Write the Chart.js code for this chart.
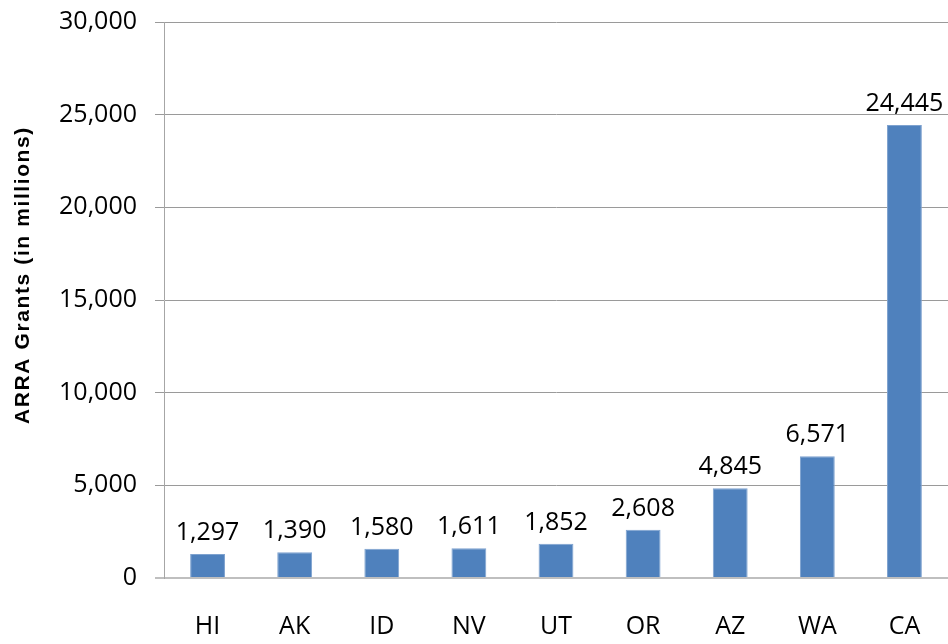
<!DOCTYPE html>
<html><head><meta charset="utf-8">
<script src="https://cdn.jsdelivr.net/npm/chart.js@4"></script>
<style>html,body{margin:0;padding:0;background:#fff}#wrap{width:948px;height:644px}</style>
</head><body><div id="wrap"><canvas id="c" width="948" height="644"></canvas></div>
<script>
const categories = ['HI','AK','ID','NV','UT','OR','AZ','WA','CA'];
const grants = [1297,1390,1580,1611,1852,2608,4845,6571,24445];
const yTitle = 'ARRA Grants (in millions)';
const yMin = 0, yMax = 30000, yStep = 5000;

const fmt = v => v.toLocaleString('en-US');
const FONT = "'Open Sans', sans-serif";

const valueLabels = {
  id: 'valueLabels',
  afterDatasetsDraw(chart) {
    const ctx = chart.ctx;
    const meta = chart.getDatasetMeta(0);
    ctx.save();
    ctx.font = '25px ' + FONT;
    ctx.fillStyle = '#000';
    ctx.textAlign = 'center';
    ctx.textBaseline = 'alphabetic';
    meta.data.forEach((bar, i) => {
      ctx.fillText(fmt(chart.data.datasets[0].data[i]), bar.x, bar.y - 14);
    });
    ctx.restore();
  }
};

const axisTitle = {
  id: 'axisTitle',
  afterDraw(chart) {
    const ctx = chart.ctx;
    ctx.save();
    ctx.translate(23, 275);
    ctx.rotate(-Math.PI / 2);
    ctx.font = "bold 21px 'Liberation Sans', Arial, sans-serif";
    if ('letterSpacing' in ctx) ctx.letterSpacing = '1.6px';
    ctx.fillStyle = '#000';
    ctx.textAlign = 'center';
    ctx.textBaseline = 'middle';
    ctx.fillText(yTitle, 0, 0);
    ctx.restore();
  }
};

new Chart(document.getElementById('c'), {
  type: 'bar',
  data: {
    labels: categories,
    datasets: [{
      data: grants,
      backgroundColor: '#4F81BD',
      borderColor: '#7EA2CF',
      borderWidth: 1,
      barPercentage: 0.40,
      categoryPercentage: 1.0
    }]
  },
  options: {
    responsive: false,
    animation: false,
    layout: { padding: { top: 22, right: -3, left: 0, bottom: 0 } },
    plugins: { legend: { display: false }, tooltip: { enabled: false } },
    scales: {
      x: {
        grid: { display: false, drawTicks: false },
        border: { color: '#BFBFBF', width: 2 },
        ticks: { color: '#000', font: { family: FONT, size: 25 }, padding: 34 },
        afterFit(s) { s.height = 66; s.paddingLeft = 0; s.paddingRight = 0; }
      },
      y: {
        min: yMin, max: yMax,
        ticks: { stepSize: yStep, color: '#000', font: { family: FONT, size: 25 }, padding: 18, callback: v => fmt(v) },
        grid: {
          color: c => (c.tick && c.tick.value === 0) ? '#BFBFBF' : '#9A9A9A',
          lineWidth: c => (c.tick && c.tick.value === 0) ? 2 : 1,
          tickLength: 9
        },
        border: { color: '#A6A6A6', width: 1 },
        title: { display: false, text: yTitle },
        afterFit(s) { s.width = 164; s.paddingTop = 0; s.paddingBottom = 0; }
      }
    }
  },
  plugins: [valueLabels, axisTitle]
});
</script></body></html>
